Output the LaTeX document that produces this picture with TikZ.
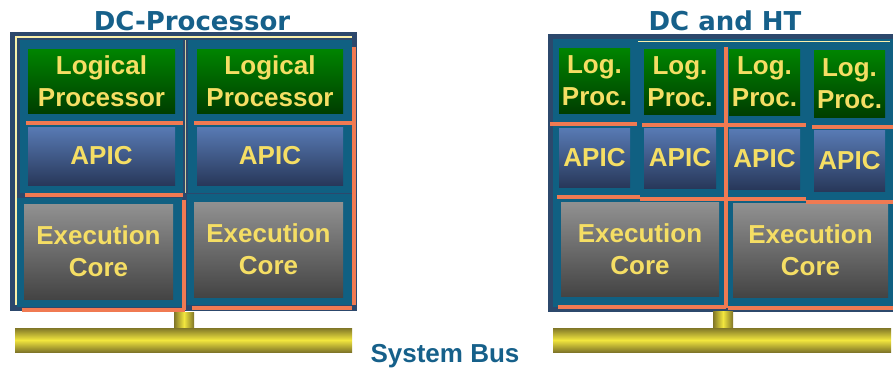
\documentclass[tikz,border=0pt]{standalone}
\usepackage{fontspec}
\setmainfont{Liberation Sans}
\newfontfamily\titlefont{DejaVu Sans}
\definecolor{navyc}{RGB}{44,72,108}
\definecolor{tealc}{RGB}{16,96,130}
\definecolor{creamc}{RGB}{250,240,170}
\definecolor{orangec}{RGB}{240,122,82}
\definecolor{txty}{RGB}{245,222,100}
\definecolor{titlec}{RGB}{22,96,138}
\definecolor{gtop}{RGB}{0,132,0}
\definecolor{gbot}{RGB}{0,62,0}
\definecolor{atop}{RGB}{88,122,180}
\definecolor{abot}{RGB}{40,56,90}
\definecolor{ctop}{RGB}{145,145,145}
\definecolor{cbot}{RGB}{68,68,68}
\definecolor{bdark}{RGB}{128,118,40}
\definecolor{bbright}{RGB}{242,230,62}
\tikzset{
  box/.style={inner sep=0pt, align=center, text=txty, font=\bfseries\fontsize{26}{32}\selectfont},
  lpbox/.style={box, top color=gtop, bottom color=gbot},
  apbox/.style={box, top color=atop, bottom color=abot},
  exbox/.style={box, top color=ctop, bottom color=cbot},
  orl/.style={draw=orangec, line width=4pt},
  title/.style={text=titlec, font=\titlefont\bfseries\fontsize{26}{30}\selectfont, anchor=base},
  buslabel/.style={text=titlec, font=\bfseries\fontsize{26}{30}\selectfont, anchor=base},
  hbar/.style={top color=bdark, bottom color=bdark, middle color=bbright},
  vbar/.style={left color=bdark, right color=bdark, middle color=bbright}
}
\begin{document}
\begin{tikzpicture}[x=1pt,y=-1pt]
\useasboundingbox (0,0) rectangle (893,368);
% titles
\node[title] (t1) at (192,30) {DC-Processor};
\node[title] (t2) at (725,30) {DC and HT};
\node[buslabel] (sb) at (445,362) {System Bus};

% ---------- left panel ----------
\fill[navyc] (10,32) rectangle (357,311);
\draw[creamc, line width=1.5pt] (16,305) -- (16,37) -- (352,37);
\fill[tealc] (20,40) rectangle (183,193);
\fill[tealc] (188,40) rectangle (352,193);
\draw[creamc!70!gray, line width=1pt] (185.5,40) -- (185.5,193);
\fill[tealc] (17,198) rectangle (182,307);
\fill[tealc] (187,194) rectangle (352,305);

\node[lpbox, minimum width=147pt, minimum height=64pt] (lpA) at (101.5,81) {Logical\\Processor};
\node[apbox, minimum width=147pt, minimum height=58pt] (apA) at (101.5,156) {APIC};
\node[lpbox, minimum width=146pt, minimum height=64pt] (lpB) at (270,81) {Logical\\Processor};
\node[apbox, minimum width=146pt, minimum height=58pt] (apB) at (270,156) {APIC};
\node[exbox, minimum width=149pt, minimum height=95pt] (exA) at (98.5,251.5) {Execution\\Core};
\node[exbox, minimum width=149pt, minimum height=95pt] (exB) at (268.5,249.5) {Execution\\Core};

\draw[orl] (26,123) -- (183,123);
\draw[orl] (194,123) -- (352,123);
\draw[orl] (25,195) -- (183,195);
\draw[orl] (354,47) -- (354,305);
\draw[orl] (184,200) -- (184,310);
\draw[orl] (22,310) -- (185,310);
\draw[orl] (192,308) -- (352,308);

\fill[vbar] (174,312) rectangle (194,328);
\node[hbar, minimum width=337pt, minimum height=24pt, inner sep=0pt] (busA) at (183.5,340) {};

% ---------- right panel ----------
\fill[navyc] (548,34) rectangle (893,312);
\fill[tealc] (553,39) rectangle (893,307);
\draw[creamc, line width=1pt] (638,41) -- (890,41);

\node[lpbox, minimum width=71pt, minimum height=65pt] (lp1) at (594.5,80.5) {Log.\\Proc.};
\node[lpbox, minimum width=72pt, minimum height=65pt] (lp2) at (680,81.5) {Log.\\Proc.};
\node[lpbox, minimum width=71pt, minimum height=66pt] (lp3) at (764.5,82) {Log.\\Proc.};
\node[lpbox, minimum width=71pt, minimum height=67pt] (lp4) at (849.5,83.5) {Log.\\Proc.};

\node[apbox, minimum width=71pt, minimum height=59pt] (ap1) at (594.5,157.5) {APIC};
\node[apbox, minimum width=72pt, minimum height=60pt] (ap2) at (680,158) {APIC};
\node[apbox, minimum width=71pt, minimum height=60pt] (ap3) at (764.5,159) {APIC};
\node[apbox, minimum width=71pt, minimum height=61pt] (ap4) at (849.5,160.5) {APIC};

\node[exbox, minimum width=158pt, minimum height=94pt] (ex1) at (640,249) {Execution\\Core};
\node[exbox, minimum width=155pt, minimum height=94pt] (ex2) at (810.5,250) {Execution\\Core};

\draw[orl] (550,124) -- (637,124);
\draw[orl] (642,125) -- (725,125);
\draw[orl] (728,125) -- (806,125);
\draw[orl] (812,127) -- (893,127);
\draw[orl] (726,47) -- (726,308);
\draw[orl] (557,197) -- (640,197);
\draw[orl] (640,199) -- (806,199);
\draw[orl] (806,202) -- (893,202);
\draw[orl] (558,307) -- (726,307);
\draw[orl] (728,308) -- (893,308);

\fill[vbar] (713,311) rectangle (733,328);
\node[hbar, minimum width=338pt, minimum height=24pt, inner sep=0pt] (busB) at (722,340) {};
\end{tikzpicture}
\end{document}
